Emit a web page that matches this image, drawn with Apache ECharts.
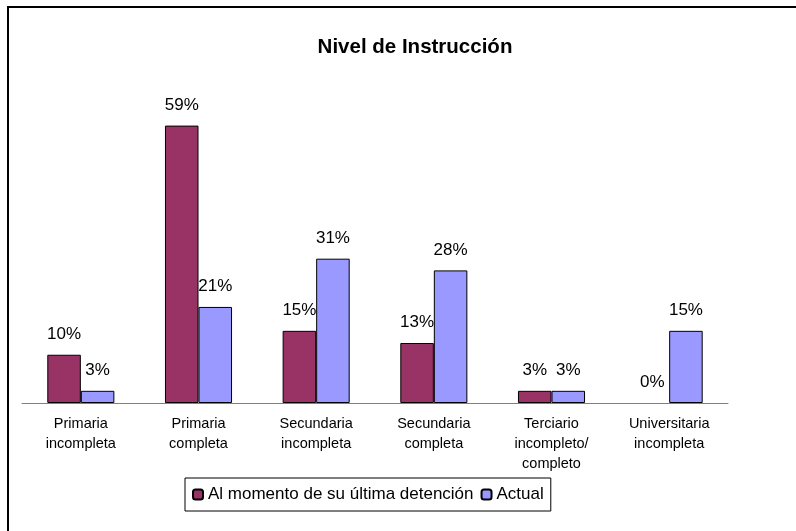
<!DOCTYPE html>
<html lang="es">
<head>
    <meta charset="UTF-8" />
    <title>Nivel de Instrucción</title>
    <script src="https://cdn.jsdelivr.net/npm/echarts@6.0.0/dist/echarts.min.js"></script>
    <style>
        html, body { margin: 0; padding: 0; background: #fff; }
        #chart { width: 796px; height: 531px; }
    </style>
</head>
<body>
<div id="chart"></div>
<script>
    const categories = [
        'Primaria\nincompleta',
        'Primaria\ncompleta',
        'Secundaria\nincompleta',
        'Secundaria\ncompleta',
        'Terciario\nincompleto/\ncompleto',
        'Universitaria\nincompleta'
    ];
    // labels show rounded values
    const detencion = [10.3, 59.2, 15.4, 12.8, 2.6, 0];
    const actual = [2.6, 20.5, 30.8, 28.3, 2.6, 15.4];
    const seriesNames = ['Al momento de su última detención', 'Actual'];

    const font = '"Liberation Sans", Arial, sans-serif';
    const chart = echarts.init(document.getElementById('chart'));

    const pctLabel = {
        show: true,
        position: 'top',
        distance: 12,
        fontFamily: font,
        fontSize: 17,
        color: '#000',
        formatter: p => Math.round(p.value) + '%'
    };

    // a bar of 0 should not leave a border line on the axis
    const toBars = vals => vals.map(v => v === 0 ? { value: v, itemStyle: { borderWidth: 0 } } : v);

    chart.setOption({
        animation: false,
        title: {
            text: 'Nivel de Instrucción',
            left: 410,
            textAlign: 'center',
            top: 32,
            textStyle: { fontFamily: font, fontSize: 20.5, fontWeight: 'bold', color: '#000' }
        },
        graphic: [{
            type: 'rect',
            shape: { x: 8, y: 7, width: 1000, height: 1000 },
            style: { fill: 'none', stroke: '#000', lineWidth: 2 }
        }],
        legend: {
            left: 185,
            top: 478,
            padding: [8, 7, 8, 7],
            borderColor: '#000',
            borderWidth: 1,
            itemWidth: 10,
            itemHeight: 10,
            itemGap: 7,
            textStyle: { fontFamily: font, fontSize: 17, color: '#000' },
            data: seriesNames
        },
        grid: { left: 22, right: 68, top: 75, bottom: 128 },
        xAxis: {
            type: 'category',
            data: categories,
            axisLine: { lineStyle: { color: '#808080', width: 1 } },
            axisTick: { length: 5, lineStyle: { color: '#808080' } },
            axisLabel: {
                fontFamily: font,
                fontSize: 14.5,
                color: '#000',
                lineHeight: 20,
                margin: 11,
                interval: 0
            }
        },
        yAxis: {
            type: 'value',
            min: 0,
            max: 70,
            show: false
        },
        series: [{
            name: seriesNames[0],
            type: 'bar',
            data: toBars(detencion),
            barGap: '0%',
            barCategoryGap: '43%',
            itemStyle: { color: '#993366', borderColor: '#000', borderWidth: 1 },
            label: pctLabel
        }, {
            name: seriesNames[1],
            type: 'bar',
            data: toBars(actual),
            itemStyle: { color: '#9999FF', borderColor: '#000', borderWidth: 1 },
            label: pctLabel
        }]
    });
</script>
</body>
</html>
